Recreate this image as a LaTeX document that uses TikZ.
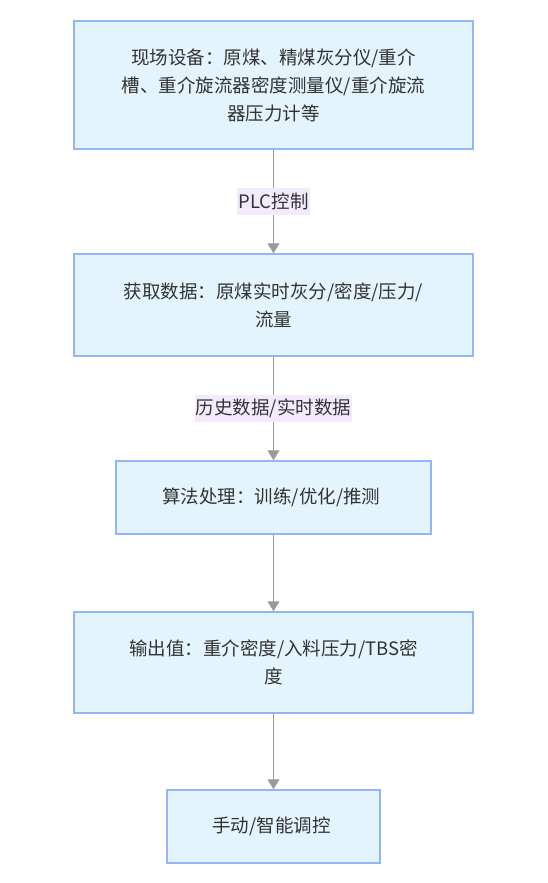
\documentclass[tikz,border=0pt]{standalone}
\usepackage{fontspec}
\setmainfont{Noto Sans CJK SC}
\usepackage{xcolor}
\usetikzlibrary{arrows.meta, positioning}
\definecolor{boxfill}{HTML}{E3F4FD}
\definecolor{boxline}{HTML}{92B6F8}
\definecolor{labelfill}{HTML}{F3EBFD}
\definecolor{textgray}{HTML}{333333}
\definecolor{arrowgray}{HTML}{999999}

\begin{document}
\begin{tikzpicture}[
    x=1pt, y=-1pt,
    % Styles
    stagebox/.style={rectangle, draw=boxline, line width=1.5pt, fill=boxfill, align=center, text=textgray, font=\fontsize{18.5}{28}\selectfont},
    edgelabel/.style={fill=labelfill, inner xsep=1pt, inner ysep=4.5pt, text=textgray, font=\fontsize{18.5}{28}\selectfont},
    arrow/.style={-{Triangle[width=12pt,length=10pt]}, line width=1pt, color=arrowgray}
]
\useasboundingbox (0,0) rectangle (548,883);

% Field devices
\node[stagebox, minimum width=399pt, minimum height=128pt] (field) at (273.5,85) {
    现场设备：原煤、精煤灰分仪/重介\\
    槽、重介旋流器密度测量仪/重介旋流\\
    器压力计等
};

% Data acquisition
\node[stagebox, minimum width=399pt, minimum height=102pt] (acquire) at (273.5,305) {
    获取数据：原煤实时灰分/密度/压力/\\
    流量
};

% Algorithm
\node[stagebox, minimum width=315pt, minimum height=73pt] (algo) at (273.5,497.5) {
    算法处理：训练/优化/推测
};

% Output values
\node[stagebox, minimum width=399pt, minimum height=101pt] (output) at (273.5,662.5) {
    输出值：重介密度/入料压力/TBS密\\
    度
};

% Control
\node[stagebox, minimum width=213pt, minimum height=73pt] (control) at (273.5,826.5) {
    手动/智能调控
};

% Arrows between boxes
\draw[arrow] (field.south) -- node[edgelabel] (plc) {PLC控制} (acquire.north);
\draw[arrow] (acquire.south) -- node[edgelabel] (hist) {历史数据/实时数据} (algo.north);
\draw[arrow] (algo.south) -- (output.north);
\draw[arrow] (output.south) -- (control.north);

\end{tikzpicture}
\end{document}
